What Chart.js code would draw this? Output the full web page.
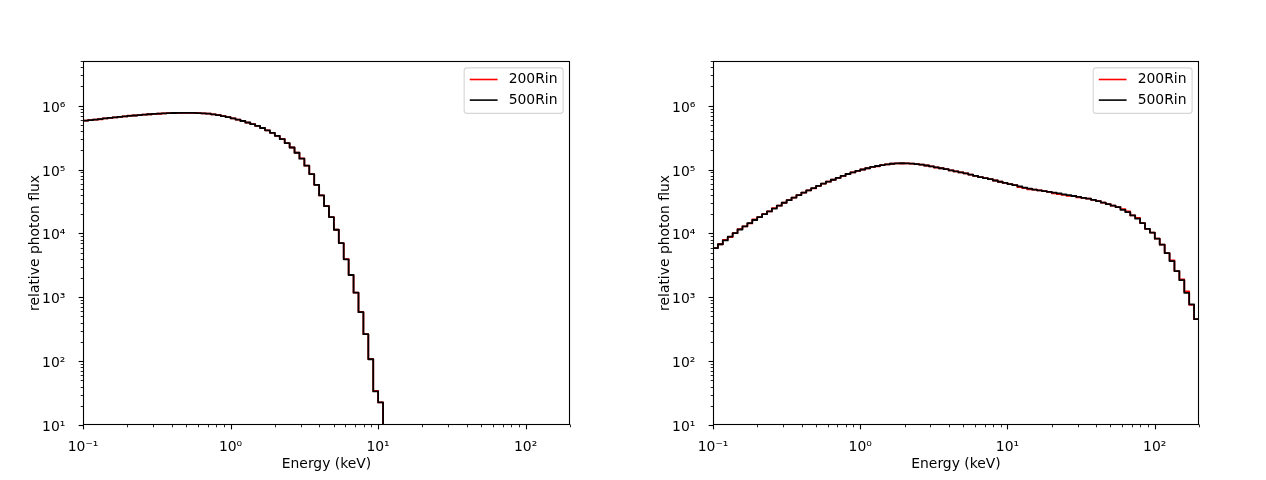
<!DOCTYPE html>
<html>
<head>
<meta charset="utf-8">
<title>relative photon flux</title>
<script src="https://cdn.jsdelivr.net/npm/chart.js@4.4.0/dist/chart.umd.min.js"></script>
<style>
    html, body { margin: 0; padding: 0; background: #fff; }
    #figure { position: relative; width: 1266px; height: 480px; }
    canvas { position: absolute; top: 0; }
    #leftChart { left: 0; }
    #rightChart { left: 633px; }
</style>
</head>
<body>
<div id="figure">
    <canvas id="leftChart" width="633" height="480"></canvas>
    <canvas id="rightChart" width="633" height="480"></canvas>
</div>
<script>
// Energy bin edges (keV), log spaced from 0.1 to 200
const energyEdges = [
    0.1, 0.108, 0.1166, 0.1259, 0.136, 0.1468, 0.1585, 0.1712, 0.1848, 0.1996,
    0.2155, 0.2327, 0.2513, 0.2713, 0.293, 0.3163, 0.3416, 0.3688, 0.3983, 0.4301,
    0.4644, 0.5014, 0.5415, 0.5847, 0.6313, 0.6817, 0.7361, 0.7948, 0.8583, 0.9268,
    1.001, 1.081, 1.167, 1.26, 1.361, 1.469, 1.586, 1.713, 1.85, 1.997,
    2.157, 2.329, 2.515, 2.715, 2.932, 3.166, 3.418, 3.691, 3.986, 4.304,
    4.647, 5.018, 5.419, 5.851, 6.318, 6.822, 7.367, 7.955, 8.589, 9.275,
    10.01, 10.81, 11.68, 12.61, 13.62, 14.7, 15.87, 17.14, 18.51, 19.99,
    21.58, 23.3, 25.16, 27.17, 29.34, 31.68, 34.21, 36.94, 39.89, 43.07,
    46.51, 50.22, 54.22, 58.55, 63.22, 68.27, 73.72, 79.6, 85.95, 92.81,
    100.2, 108.2, 116.9, 126.2, 136.2, 147.1, 158.9, 171.5, 185.2, 200
];

const seriesLabels = ['200Rin', '500Rin'];
const seriesColors = ['#ff0000', '#000000'];

// Left panel: flux per bin (last bin drops below the axis)
const leftFlux200 = [
    582000, 592000, 603000, 612000, 630000, 643000, 655000, 668000, 679000, 697000,
    701000, 713000, 723000, 733000, 741000, 746000, 757000, 762000, 767000, 769000,
    771000, 771000, 769000, 766000, 759000, 748000, 731000, 716000, 687000, 661000,
    634000, 605000, 575000, 541000, 513000, 481000, 447000, 411000, 375000, 337000,
    302000, 259000, 221000, 183000, 149000, 115000, 84900, 57500, 39300, 27000,
    18000, 11400, 7060, 3960, 2230, 1180, 588, 264, 108, 34.2,
    22.6, 1
];
const leftFlux500 = [
    582000, 592000, 603000, 617000, 630000, 643000, 655000, 668000, 679000, 692000,
    701000, 713000, 723000, 733000, 741000, 750000, 757000, 762000, 767000, 769000,
    771000, 771000, 769000, 766000, 759000, 748000, 731000, 711000, 687000, 661000,
    634000, 605000, 575000, 545000, 513000, 481000, 447000, 411000, 375000, 337000,
    299000, 259000, 221000, 183000, 148000, 115000, 84900, 57500, 39300, 26700,
    18000, 11400, 7060, 3930, 2230, 1180, 583, 264, 107, 33.6,
    22.6, 1
];

// Right panel: flux per bin
const rightFlux200 = [
    5890, 6760, 7920, 8760, 10100, 11700, 12900, 14300, 16500, 18000,
    20000, 22100, 24900, 27200, 30200, 33100, 36300, 39800, 43600, 47300,
    50600, 55600, 60300, 64600, 69200, 74100, 79400, 85100, 90200, 95500,
    100000, 104700, 109600, 112500, 117500, 120200, 123000, 124500, 124200, 125000,
    123900, 121600, 118900, 115600, 112200, 107600, 104700, 101200, 96600, 93300,
    90200, 87100, 83200, 79400, 75900, 73300, 70500, 67300, 64300, 61700,
    59200, 56900, 53100, 51000, 49100, 48500, 47300, 45900, 44700, 42400,
    41300, 40000, 38800, 38500, 36500, 36100, 34900, 33500, 32000, 30400,
    28800, 27200, 25800, 24000, 22100, 19100, 17400, 14500, 11800, 10300,
    8260, 6650, 4920, 3780, 2570, 1900, 1230, 760, 453
];
const rightFlux500 = [
    5890, 6760, 7760, 8910, 10100, 11500, 12900, 14500, 16200, 18000,
    20000, 22100, 24500, 27200, 30200, 33100, 36300, 39800, 43600, 47300,
    51300, 55600, 60300, 64600, 69200, 74100, 79400, 85100, 90200, 95500,
    100000, 104700, 109600, 113500, 117500, 120200, 123000, 124500, 125300, 125000,
    123900, 121600, 118900, 115600, 112200, 108400, 104700, 101200, 96600, 93300,
    90200, 87100, 83200, 79400, 75900, 73300, 70500, 67300, 64300, 61700,
    59200, 56900, 54300, 52200, 50100, 48500, 47300, 45900, 44700, 43400,
    42300, 40900, 39600, 38500, 37300, 36100, 34900, 33500, 32000, 30400,
    28800, 27200, 25800, 23400, 21500, 19100, 17000, 14500, 11800, 10300,
    8260, 6650, 4920, 3690, 2570, 1850, 1170, 776, 453
];

// Axis limits and ticks
const xRange = [0.1, 200];
const yRange = [10, 5e6];
const xMajorTicks = [0.1, 1, 10, 100];
const xTickLabels = ['10⁻¹', '10⁰', '10¹', '10²'];
const yMajorTicks = [10, 100, 1000, 10000, 100000, 1000000];
const yTickLabels = ['10¹', '10²', '10³', '10⁴', '10⁵', '10⁶'];
const xTitle = 'Energy (keV)';
const yTitle = 'relative photon flux';

const FONT_PX = 13.9;
Chart.defaults.font.family = '"DejaVu Sans", sans-serif';
Chart.defaults.font.size = FONT_PX;
Chart.defaults.color = '#000';

// Turn a list of bin values into step points (value holds until next edge)
function toSteps(values) {
    const pts = values.map((v, i) => ({ x: energyEdges[i], y: v }));
    pts.push({ x: energyEdges[values.length], y: values[values.length - 1] });
    return pts;
}

// Minor ticks: 2..9 times each decade inside the range
function minorTicks(range) {
    const out = [];
    const d0 = Math.floor(Math.log10(range[0]));
    const d1 = Math.ceil(Math.log10(range[1]));
    for (let d = d0; d <= d1; d++) {
        for (let k = 2; k <= 9; k++) {
            const v = k * Math.pow(10, d);
            if (v >= range[0] * 0.999 && v <= range[1] * 1.001) out.push(v);
        }
    }
    return out;
}

function logAxis(range, majors, labels, title, titlePad, ticksPad, labelOffset, fitSize, horizontal) {
    const minors = minorTicks(range);
    return {
        type: 'logarithmic',
        min: range[0],
        max: range[1],
        grid: { display: false },
        border: { display: false },
        ticks: {
            autoSkip: false,
            maxRotation: 0,
            minRotation: 0,
            padding: ticksPad,
            labelOffset: labelOffset,
            color: '#000',
            callback: function(value) {
                const k = majors.findIndex(m => Math.abs(m - value) / m < 1e-6);
                return k >= 0 ? labels[k] : '';
            }
        },
        title: {
            display: true,
            text: title,
            color: '#000',
            padding: titlePad
        },
        afterBuildTicks: function(scale) {
            scale.ticks = majors.map(v => ({ value: v, major: true }))
                .concat(minors.map(v => ({ value: v, major: false })))
                .sort((a, b) => a.value - b.value);
        },
        afterFit: function(scale) {
            if (horizontal) scale.height = fitSize;
            else scale.width = fitSize;
        }
    };
}

// Spines and outward tick marks, matplotlib style
const axesFrame = {
    id: 'axesFrame',
    afterDatasetsDraw(chart) {
        const { ctx, chartArea: a, scales } = chart;
        const left = Math.round(a.left) + 0.5;
        const bottom = Math.round(a.bottom) - 0.5;
        ctx.save();
        ctx.strokeStyle = '#000';
        scales.x.ticks.forEach(t => {
            const px = Math.round(scales.x.getPixelForValue(t.value)) + 0.5;
            ctx.lineWidth = t.major ? 1.1 : 0.85;
            ctx.beginPath();
            ctx.moveTo(px, bottom);
            ctx.lineTo(px, bottom + (t.major ? 4.9 : 2.8));
            ctx.stroke();
        });
        scales.y.ticks.forEach(t => {
            const py = Math.round(scales.y.getPixelForValue(t.value)) + 0.5;
            ctx.lineWidth = t.major ? 1.1 : 0.85;
            ctx.beginPath();
            ctx.moveTo(left, py);
            ctx.lineTo(left - (t.major ? 4.9 : 2.8), py);
            ctx.stroke();
        });
        ctx.lineWidth = 1.1;
        ctx.strokeRect(left, Math.round(a.top) + 0.5,
            Math.round(a.right) - Math.round(a.left) - 1,
            Math.round(a.bottom) - Math.round(a.top) - 1);
        ctx.restore();
    }
};

// Legend box in the upper right corner of the axes
const cornerLegend = {
    id: 'cornerLegend',
    afterDraw(chart) {
        const { ctx, chartArea: a } = chart;
        const items = chart.data.datasets.map(d => ({ text: d.label, color: d.borderColor }));
        ctx.save();
        ctx.font = FONT_PX + 'px "DejaVu Sans"';
        const textW = Math.max(...items.map(i => ctx.measureText(i.text).width));
        const w = 5.6 + 27.8 + 11.1 + textW + 5.6;
        const h = 45.5;
        const x0 = a.right - 6.9 - w;
        const y0 = a.top + 6.9;
        ctx.beginPath();
        ctx.roundRect(x0, y0, w, h, 2.8);
        ctx.fillStyle = 'rgba(255,255,255,0.8)';
        ctx.fill();
        ctx.strokeStyle = 'rgba(204,204,204,0.8)';
        ctx.lineWidth = 1.1;
        ctx.stroke();
        items.forEach((it, k) => {
            const y = y0 + 11.6 + k * 20.6;
            ctx.strokeStyle = it.color;
            ctx.lineWidth = 1.6;
            ctx.beginPath();
            ctx.moveTo(x0 + 5.6, y);
            ctx.lineTo(x0 + 5.6 + 27.8, y);
            ctx.stroke();
            ctx.fillStyle = '#000';
            ctx.textBaseline = 'middle';
            ctx.textAlign = 'left';
            ctx.fillText(it.text, x0 + 5.6 + 27.8 + 11.1, y);
        });
        ctx.restore();
    }
};

function initSpectrumChart(canvasId, flux200, flux500, layout) {
    const ctx = document.getElementById(canvasId).getContext('2d');
    new Chart(ctx, {
        type: 'line',
        data: {
            datasets: [
                {
                    label: seriesLabels[0],
                    data: toSteps(flux200),
                    borderColor: seriesColors[0],
                    order: 2
                },
                {
                    label: seriesLabels[1],
                    data: toSteps(flux500),
                    borderColor: seriesColors[1],
                    order: 1
                }
            ]
        },
        options: {
            responsive: false,
            animation: false,
            devicePixelRatio: 1,
            layout: { padding: { left: 0, top: 61, right: layout.padRight, bottom: 0 } },
            elements: {
                line: { borderWidth: 1.8, stepped: 'before', tension: 0, fill: false, borderJoinStyle: 'round' },
                point: { radius: 0, hoverRadius: 0 }
            },
            datasets: { line: { clip: 0 } },
            scales: {
                x: logAxis(xRange, xMajorTicks, xTickLabels, xTitle,
                    { top: 0, bottom: 7.7 }, 5.8, 0, 55, true),
                y: logAxis(yRange, yMajorTicks, yTickLabels, yTitle,
                    { top: layout.yTitlePad, bottom: 0 }, 9.7, 2.5, layout.axisLeft, false)
            },
            plugins: {
                legend: { display: false },
                tooltip: { enabled: false }
            }
        },
        plugins: [axesFrame, cornerLegend]
    });
}

document.addEventListener('DOMContentLoaded', function() {
    initSpectrumChart('leftChart', leftFlux200, leftFlux500, { axisLeft: 83, padRight: 63, yTitlePad: 26.7 });
    initSpectrumChart('rightChart', rightFlux200, rightFlux500, { axisLeft: 80, padRight: 67, yTitlePad: 23.7 });
});
</script>
</body>
</html>
